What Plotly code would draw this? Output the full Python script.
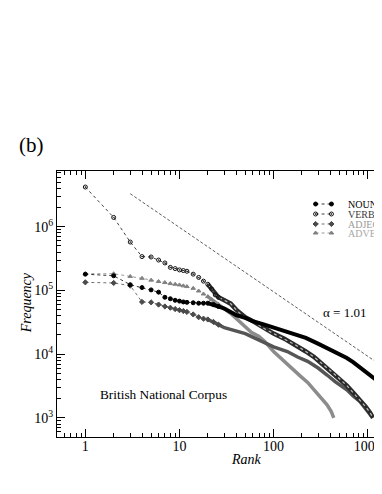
import plotly.graph_objects as go

# ---------------- data ----------------
NOUN_RANK = [1, 2, 3, 4, 5, 6, 7, 8, 9, 10, 11, 12, 14, 16, 18, 20, 23, 26, 30, 35, 40, 50, 60, 80,
             100, 130, 170, 220, 300, 400, 500, 600, 700, 900, 1100, 1300, 1400]
NOUN_FREQ = [1.8e5, 1.70e5, 1.23e5, 1.11e5, 1.02e5, 9.4e4, 7.8e4, 7.4e4, 7.0e4, 6.8e4, 6.6e4, 6.5e4,
             6.4e4, 6.3e4, 6.3e4, 6.3e4, 6.0e4, 5.6e4, 5.2e4, 4.6e4, 4.1e4, 3.7e4, 3.3e4, 2.9e4,
             2.6e4, 2.3e4, 2.05e4, 1.8e4, 1.45e4, 1.18e4, 1.0e4, 8.7e3, 7.5e3, 5.7e3, 4.5e3, 3.7e3, 3.4e3]

VERB_RANK = [1, 2, 3, 4, 5, 6, 7, 8, 9, 10, 11, 12, 14, 16, 18, 20, 22, 24, 26, 30, 35, 40, 45, 50,
             60, 80, 100, 130, 170, 220, 270, 350, 470, 600, 700, 830, 950, 1060, 1140]
VERB_FREQ = [4.2e6, 1.4e6, 5.75e5, 3.4e5, 3.35e5, 3.0e5, 2.7e5, 2.3e5, 2.2e5, 2.1e5, 2.05e5, 2.0e5,
             1.8e5, 1.6e5, 1.4e5, 1.25e5, 1.05e5, 8.5e4, 7.8e4, 7.0e4, 6.2e4, 5.0e4, 4.2e4, 3.8e4,
             3.3e4, 2.5e4, 2.1e4, 1.75e4, 1.4e4, 1.1e4, 9.0e3, 6.5e3, 4.5e3, 3.2e3, 2.5e3, 1.9e3,
             1.5e3, 1.2e3, 1.0e3]

ADJ_RANK = [1, 2, 3, 4, 5, 6, 7, 8, 9, 10, 11, 12, 14, 16, 18, 20, 23, 26, 30, 35, 40, 50, 60, 80,
            100, 140, 180, 230, 300, 370, 450, 600, 700, 830, 950, 1100]
ADJ_FREQ = [1.34e5, 1.31e5, 1.19e5, 6.6e4, 6.5e4, 6.0e4, 5.6e4, 5.35e4, 5.1e4, 4.9e4, 4.75e4, 4.6e4,
            4.2e4, 3.8e4, 3.6e4, 3.5e4, 3.2e4, 2.9e4, 2.6e4, 2.45e4, 2.3e4, 2.1e4, 1.85e4, 1.5e4,
            1.3e4, 1.1e4, 9.0e3, 7.7e3, 6.0e3, 4.7e3, 3.7e3, 2.75e3, 2.2e3, 1.8e3, 1.4e3, 1.05e3]

ADV_RANK = [1, 2, 3, 4, 5, 6, 7, 8, 9, 10, 11, 12, 14, 16, 18, 20, 22, 26, 30, 36, 42, 50, 58, 70,
            80, 100, 120, 150, 190, 230, 270, 320, 370, 410, 436]
ADV_FREQ = [1.83e5, 1.83e5, 1.66e5, 1.55e5, 1.45e5, 1.38e5, 1.33e5, 1.28e5, 1.25e5, 1.22e5, 1.18e5,
            1.15e5, 1.08e5, 9.8e4, 8.8e4, 8.0e4, 7.2e4, 6.0e4, 5.2e4, 4.2e4, 3.4e4, 2.7e4, 2.2e4,
            1.9e4, 1.6e4, 1.1e4, 8.5e3, 6.4e3, 4.6e3, 3.6e3, 2.75e3, 2.1e3, 1.6e3, 1.25e3, 1.0e3]

FIT_RANK = [3, 1400]
FIT_FREQ = [3.3e6, 6.6e3]
FIT_LABEL = "α = 1.01"

SERIES_NAMES = ["NOUNS", "VERBS", "ADJEC", "ADVER"]
X_TICKS = [1, 10, 100, 1000]
X_TICKTEXT = ["1", "10", "100", "1000"]
Y_TICKS = [1e3, 1e4, 1e5, 1e6]
Y_TICKTEXT = ["10<sup>3</sup>", "10<sup>4</sup>", "10<sup>5</sup>", "10<sup>6</sup>"]

FONT = "Liberation Serif"
OFF = 8                      # page body margin (screen px = figure px + 8)
W, H = 374, 460
L, R, T, B = 49, 374, 163, 429   # plot area in figure pixels

styles = {
    "NOUNS": dict(color="#000000", symbol="circle", size=4, dense_w=4.0, dense_c="#000000", text="#000000"),
    "VERBS": dict(color="#111111", symbol="circle-open-dot", size=4, dense_w=4.5, dense_c="#2a2a2a", text="#3a3a3a"),
    "ADJEC": dict(color="#4a4a4a", symbol="diamond", size=4, dense_w=3.5, dense_c="#555555", text="#9a9a9a"),
    "ADVER": dict(color="#808080", symbol="triangle-up", size=4, dense_w=3.5, dense_c="#8c8c8c", text="#a8a8a8"),
}
series = {
    "NOUNS": (NOUN_RANK, NOUN_FREQ),
    "VERBS": (VERB_RANK, VERB_FREQ),
    "ADJEC": (ADJ_RANK, ADJ_FREQ),
    "ADVER": (ADV_RANK, ADV_FREQ),
}

fig = go.Figure()

# fitted power law reference line
fig.add_trace(go.Scatter(x=FIT_RANK, y=FIT_FREQ, mode="lines",
                         line=dict(color="#333333", width=0.8, dash="3px,2px"),
                         showlegend=False, hoverinfo="skip"))

THIN_MAX = 26
DENSE_MIN = 20
for name in ["ADVER", "ADJEC", "VERBS", "NOUNS"]:
    rk, fq = series[name]
    st = styles[name]
    dx = [r for r in rk if r >= DENSE_MIN]
    dy = [f for r, f in zip(rk, fq) if r >= DENSE_MIN]
    fig.add_trace(go.Scatter(x=dx, y=dy, mode="lines",
                             line=dict(color=st["dense_c"], width=st["dense_w"]),
                             showlegend=False, hoverinfo="skip"))
    if name == "VERBS":
        fig.add_trace(go.Scatter(x=dx, y=dy, mode="lines",
                                 line=dict(color="#bbbbbb", width=1.2, dash="dot"),
                                 showlegend=False, hoverinfo="skip"))
    tx = [r for r in rk if r <= THIN_MAX]
    ty = [f for r, f in zip(rk, fq) if r <= THIN_MAX]
    fig.add_trace(go.Scatter(x=tx, y=ty, mode="lines+markers",
                             line=dict(color=st["color"], width=0.8, dash="dot"),
                             marker=dict(symbol=st["symbol"], size=st["size"], color=st["color"],
                                         line=dict(color=st["color"], width=1)),
                             showlegend=False, hoverinfo="skip"))

# ---------------- manual legend on a pixel overlay (screen coords) ----------------
LEG_Y = [204, 214, 224, 233]
for name, ly in zip(SERIES_NAMES, LEG_Y):
    st = styles[name]
    fig.add_trace(go.Scatter(x=[318 - OFF, 334 - OFF], y=[ly - OFF, ly - OFF], xaxis="x2", yaxis="y2",
                             mode="lines+markers",
                             line=dict(color=st["color"], width=0.8, dash="dot"),
                             marker=dict(symbol=st["symbol"], size=st["size"], color=st["color"],
                                         line=dict(color=st["color"], width=1)),
                             showlegend=False, hoverinfo="skip", cliponaxis=False))
    fig.add_annotation(x=349 - OFF, y=ly - OFF, xref="x2", yref="y2", text=name, showarrow=False,
                       xanchor="left", yanchor="middle",
                       font=dict(family=FONT, size=10, color=st["text"]))


def px(xs):
    return (xs - OFF - L) / (R - L)


def py(ys):
    return (B - (ys - OFF)) / (B - T)


fig.add_annotation(x=px(323), y=py(312), xref="paper", yref="paper", text=FIT_LABEL,
                   showarrow=False, xanchor="left", yanchor="middle",
                   font=dict(family=FONT, size=13, color="#000"))
fig.add_annotation(x=px(164), y=py(394), xref="paper", yref="paper", text="British National Corpus",
                   showarrow=False, xanchor="center", yanchor="middle",
                   font=dict(family=FONT, size=13.3, color="#000"))
fig.add_annotation(x=px(31), y=py(145), xref="paper", yref="paper", text="(b)",
                   showarrow=False, xanchor="center", yanchor="middle",
                   font=dict(family=FONT, size=21, color="#000"))
fig.add_annotation(x=px(26), y=py(303), xref="paper", yref="paper", text="<i>Frequency</i>",
                   showarrow=False, xanchor="center", yanchor="middle", textangle=-90,
                   font=dict(family=FONT, size=14, color="#000"))
fig.add_annotation(x=px(248), y=py(459), xref="paper", yref="paper", text="<i>Rank</i>",
                   showarrow=False, xanchor="center", yanchor="middle",
                   font=dict(family=FONT, size=14, color="#000"))

axis_common = dict(showline=True, linecolor="#000", linewidth=1, ticks="inside", ticklen=8,
                   tickcolor="#000", tickwidth=1, showgrid=False, zeroline=False,
                   ticklabeloverflow="allow",
                   tickfont=dict(family=FONT, size=14, color="#000"),
                   minor=dict(ticks="inside", ticklen=4, tickcolor="#000", tickwidth=1,
                              dtick="D1", showgrid=False))

fig.update_layout(
    width=W, height=H,
    margin=dict(l=L, r=W - R, t=T, b=H - B, pad=0),
    paper_bgcolor="white", plot_bgcolor="white",
    showlegend=False,
    xaxis=dict(type="log", range=[-0.301, 3.12], tickmode="array", tickvals=X_TICKS,
               ticktext=X_TICKTEXT, mirror="ticks", ticklabelstandoff=-4, **axis_common),
    yaxis=dict(type="log", range=[2.699, 6.875], tickmode="array", tickvals=Y_TICKS,
               ticktext=Y_TICKTEXT, mirror=False, **axis_common),
    xaxis2=dict(overlaying="x", range=[L, R], visible=False, fixedrange=True),
    yaxis2=dict(overlaying="y", range=[B, T], visible=False, fixedrange=True),
)

fig.write_html("out.html")
